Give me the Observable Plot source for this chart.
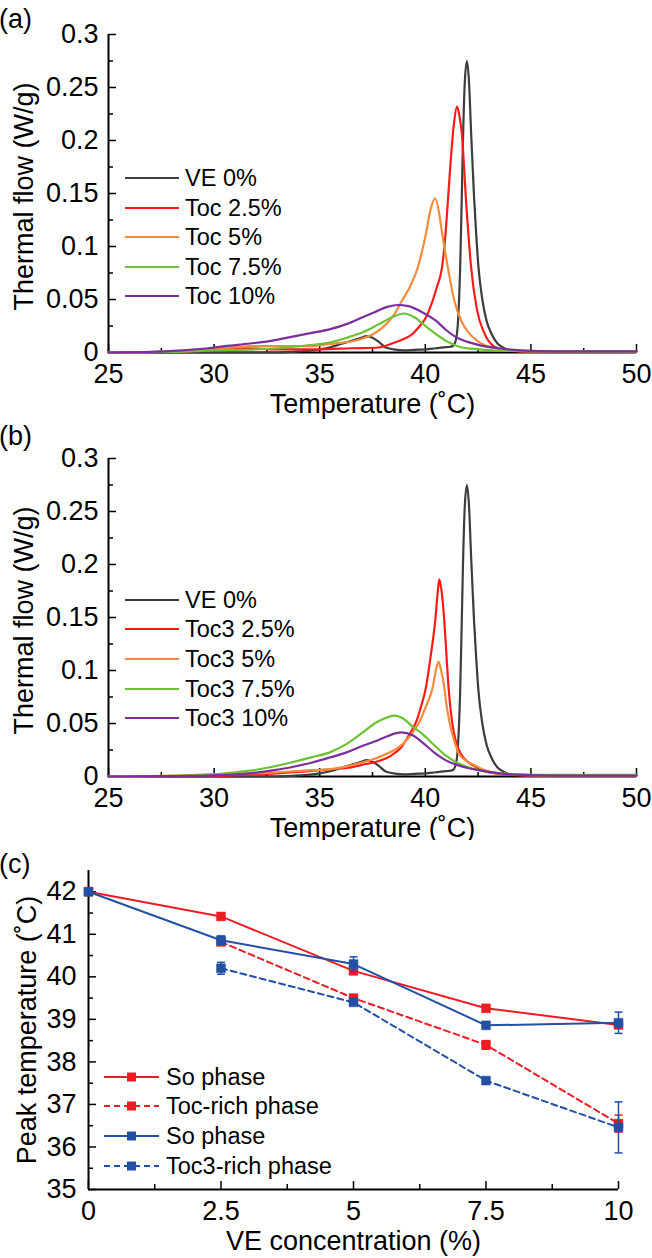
<!DOCTYPE html>
<html><head><meta charset="utf-8">
<script src="https://cdn.jsdelivr.net/npm/d3@7"></script>
<script src="https://cdn.jsdelivr.net/npm/@observablehq/plot@0.6"></script>
<style>
html,body{margin:0;padding:0;background:#fff;}
#wrap{position:relative;width:652px;height:1258px;overflow:hidden;font-family:"Liberation Sans",Arial,sans-serif;}
#wrap svg{position:absolute;left:0;}
</style></head><body><div id="wrap"></div>
<script>
// ---------- axis ticks ----------
const tempTicks = [25, 30, 35, 40, 45, 50];
const tempMinor = [27.5, 32.5, 37.5, 42.5, 47.5];
const flowTicks = [0, 0.05, 0.1, 0.15, 0.2, 0.25, 0.3];
const flowMinor = [0.025, 0.075, 0.125, 0.175, 0.225, 0.275];
const concTicks = [0, 2.5, 5, 7.5, 10];
const concMinor = [1.25, 3.75, 6.25, 8.75];
const peakTicks = [35, 36, 37, 38, 39, 40, 41, 42];
const peakMinor = [35.5, 36.5, 37.5, 38.5, 39.5, 40.5, 41.5];

// ---------- DSC curves [temperature, thermal flow] ----------
const curveVE0 = [[25,0],[33,0],[34,0.001],[35,0.003],[35.5,0.005],[36,0.008],[36.5,0.011],[37,0.014],[37.2,0.0155],[37.5,0.014],[37.8,0.01],[38.1,0.005],[38.5,0.003],[39,0.002],[39.5,0.0025],[40,0.003],[40.5,0.004],[41,0.005],[41.3,0.006],[41.45,0.012],[41.55,0.03],[41.65,0.08],[41.72,0.14],[41.79,0.205],[41.87,0.255],[41.97,0.275],[42.07,0.255],[42.17,0.207],[42.3,0.15],[42.4,0.115],[42.52,0.08],[42.7,0.05],[42.9,0.03],[43.15,0.017],[43.4,0.009],[43.66,0.005],[44,0.002],[45,0.001],[50,0.001]];
const curveToc25 = [[25,0],[28,0.0005],[29.5,0.002],[30,0.004],[30.5,0.003],[31.5,0.004],[33,0.003],[35,0.003],[36.5,0.004],[37.8,0.0047],[38.5,0.009],[39,0.013],[39.4,0.0176],[39.7,0.024],[40.03,0.033],[40.3,0.046],[40.55,0.062],[40.79,0.08],[40.95,0.11],[41.07,0.143],[41.2,0.18],[41.35,0.215],[41.5,0.232],[41.6,0.225],[41.73,0.2065],[41.93,0.143],[42.17,0.08],[42.45,0.04],[42.8,0.018],[43.3,0.005],[43.8,0.002],[45,0.001],[50,0.001]];
const curveToc5 = [[25,0],[26.5,0],[28,0.001],[29,0.002],[30,0.004],[31,0.005],[31.7,0.006],[33,0.006],[34.5,0.006],[35.5,0.008],[36,0.009],[37,0.013],[37.5,0.017],[38,0.024],[38.5,0.035],[38.9,0.049],[39.3,0.063],[39.64,0.08],[40.03,0.112],[40.25,0.135],[40.47,0.1455],[40.65,0.132],[40.8,0.112],[41.07,0.08],[41.37,0.049],[41.7,0.03],[42.08,0.018],[42.4,0.012],[42.8,0.007],[43.3,0.004],[44,0.002],[45,0.001],[50,0.001]];
const curveToc75 = [[25,0],[28,0.0005],[30,0.002],[32,0.003],[33,0.004],[34,0.006],[35,0.008],[35.47,0.0094],[36.3,0.014],[37.04,0.019],[37.83,0.027],[38.5,0.034],[39,0.0368],[39.5,0.033],[40.19,0.022],[40.6,0.016],[40.98,0.011],[41.7,0.005],[42.55,0.003],[44,0.0015],[50,0.001]];
const curveToc10 = [[25,0],[27,0.0005],[28.5,0.002],[29.7,0.004],[30.5,0.006],[31.7,0.0085],[32.7,0.011],[33.6,0.0145],[34.5,0.018],[35.5,0.022],[36.3,0.027],[37,0.033],[37.6,0.038],[38.2,0.043],[38.7,0.0448],[39.2,0.0438],[39.87,0.0378],[40.5,0.03],[41,0.021],[41.5,0.014],[42,0.01],[42.55,0.007],[43.5,0.004],[44.5,0.002],[46,0.001],[50,0.001]];

const curveToc3_25 = [[25,0],[30,0.0005],[31.5,0.0015],[33,0.003],[34.5,0.005],[35.6,0.007],[36.3,0.008],[37,0.011],[37.83,0.0148],[38.4,0.02],[38.85,0.0274],[39.2,0.038],[39.59,0.0527],[39.8,0.066],[40.03,0.084],[40.25,0.113],[40.47,0.147],[40.58,0.172],[40.66,0.186],[40.75,0.178],[40.9,0.147],[41,0.115],[41.1,0.084],[41.26,0.0527],[41.45,0.033],[41.68,0.0215],[42,0.014],[42.4,0.009],[42.8,0.005],[43.3,0.003],[44,0.0015],[45,0.001],[50,0.001]];
const curveToc3_5 = [[25,0],[28,0.0005],[29.7,0.002],[31,0.0025],[32.5,0.0035],[33.6,0.0047],[34.6,0.006],[35.5,0.007],[36.73,0.0117],[37.5,0.016],[38.15,0.0212],[38.7,0.027],[39.09,0.0337],[39.45,0.043],[39.75,0.0527],[40.05,0.067],[40.35,0.084],[40.5,0.1],[40.63,0.1084],[40.75,0.1],[40.9,0.084],[41,0.068],[41.13,0.0527],[41.35,0.035],[41.6,0.0212],[42,0.014],[42.4,0.01],[42.8,0.006],[43.5,0.003],[44.5,0.0015],[46,0.001],[50,0.001]];
const curveToc3_75 = [[25,0],[28,0.0005],[30,0.002],[31,0.004],[31.7,0.0055],[32.7,0.009],[33.6,0.013],[34.6,0.018],[35.5,0.023],[36.3,0.031],[37.04,0.0416],[37.6,0.05],[38.1,0.055],[38.54,0.0574],[39,0.054],[39.4,0.047],[39.87,0.04],[40.4,0.03],[40.98,0.0196],[41.5,0.013],[42,0.009],[42.55,0.006],[43.5,0.003],[44.5,0.002],[46,0.0015],[50,0.0015]];
const curveToc3_10 = [[25,0],[29,0.0005],[30.5,0.0015],[31.7,0.003],[32.7,0.0055],[33.6,0.0085],[34.6,0.013],[35.5,0.018],[36.3,0.023],[37.04,0.029],[37.6,0.033],[38.2,0.038],[38.85,0.0416],[39.4,0.039],[39.87,0.032],[40.4,0.023],[41,0.015],[41.5,0.011],[42,0.008],[42.55,0.006],[43.5,0.003],[44.5,0.0015],[46.5,0.0008],[50,0.0008]];

const namesA = ["VE 0%", "Toc 2.5%", "Toc 5%", "Toc 7.5%", "Toc 10%"];
const namesB = ["VE 0%", "Toc3 2.5%", "Toc3 5%", "Toc3 7.5%", "Toc3 10%"];
const dscColors = ["#3d3d3d", "#ff1a1a", "#f58b3c", "#6cc235", "#7b2f9c"];

// ---------- panel (c) peak temperatures ----------
const conc = [0, 2.5, 5, 7.5, 10];
const concRich = [2.5, 5, 7.5, 10];
const soToc = [42.0, 41.42, 40.14, 39.26, 38.87];
const soTocErr = [0.03, 0.05, 0.08, 0.06, 0.06];
const tocRich = [40.82, 39.50, 38.40, 36.55];
const tocRichErr = [0.05, 0.06, 0.1, 0.2];
const soToc3 = [42.0, 40.86, 40.30, 38.86, 38.92];
const soToc3Err = [0.03, 0.1, 0.17, 0.05, 0.25];
const toc3Rich = [40.20, 39.40, 37.56, 36.46];
const toc3RichErr = [0.14, 0.05, 0.04, 0.6];
const namesC = ["So phase", "Toc-rich phase", "So phase", "Toc3-rich phase"];
const colorsC = ["#ec1c24", "#ec1c24", "#2250a4", "#2250a4"];
const dashedC = [false, true, false, true];

// ---------- helpers ----------
const FONT = '"Liberation Sans", Arial, sans-serif';
const TICK_FS = 27, TITLE_FS = 27;
const wrap = document.getElementById("wrap");
const fmtNum = d => String(+d.toFixed(3));

function place(svg, top) {
  svg.style.top = top + "px";
  wrap.appendChild(svg);
}

function dscPanel(curves, names, top) {
  const rows = [];
  curves.forEach((c, i) => c.forEach(([T, v]) => rows.push({T, v, s: names[i]})));
  const svg = Plot.plot({
    width: 652, height: 420,
    marginTop: top === 0 ? 34 : 38, marginBottom: top === 0 ? 68 : 64,
    marginLeft: 108, marginRight: 16,
    style: {fontFamily: FONT, fontSize: TICK_FS + "px", color: "black", background: "white", overflow: "visible"},
    x: {domain: [25, 50]},
    y: {domain: [0, 0.3]},
    color: {domain: names, range: dscColors},
    marks: [
      Plot.axisX({ticks: tempTicks, tickSize: -8, tickPadding: 19, tickFormat: fmtNum, label: null, fontSize: TICK_FS, strokeWidth: 1.5}),
      Plot.axisX({ticks: tempMinor, tickSize: -4, tickFormat: () => "", label: null, strokeWidth: 1.5}),
      Plot.axisY({ticks: flowTicks, tickSize: -8, tickPadding: 18, tickFormat: fmtNum, label: null, fontSize: TICK_FS, strokeWidth: 1.5}),
      Plot.axisY({ticks: flowMinor, tickSize: -5, tickFormat: () => "", label: null, strokeWidth: 1.5}),
      Plot.ruleX([25], {strokeWidth: 2}),
      Plot.ruleY([0], {strokeWidth: 2}),
      Plot.line(rows, {x: "T", y: "v", z: "s", stroke: "s", strokeWidth: 2.2, curve: "monotone-x"}),
      Plot.text(["Temperature (˚C)"], {text: d => d, frameAnchor: "bottom", lineAnchor: "middle", textAnchor: "middle", dy: 52, fontSize: TITLE_FS}),
      Plot.text(["Thermal flow (W/g)"], {text: d => d, frameAnchor: "left", lineAnchor: "middle", textAnchor: "middle", rotate: -90, dx: -84, dy: 3, fontSize: TITLE_FS})
    ]
  });
  place(svg, top);
}

dscPanel([curveVE0, curveToc25, curveToc5, curveToc75, curveToc10], namesA, 0);
dscPanel([curveVE0, curveToc3_25, curveToc3_5, curveToc3_75, curveToc3_10], namesB, 420);

// panel (c)
const seriesC = [
  {xs: conc, ys: soToc, es: soTocErr},
  {xs: concRich, ys: tocRich, es: tocRichErr},
  {xs: conc, ys: soToc3, es: soToc3Err},
  {xs: concRich, ys: toc3Rich, es: toc3RichErr}
];
const capSymbol = {draw(ctx) { ctx.moveTo(-4, 0); ctx.lineTo(4, 0); }};
const marksC = [];
seriesC.forEach((s, i) => {
  const rows = s.xs.map((x, j) => ({x, y: s.ys[j], e: s.es[j]}));
  const col = colorsC[i];
  marksC.push(
    Plot.line(rows, {x: "x", y: "y", stroke: col, strokeWidth: 2, strokeDasharray: dashedC[i] ? "6,4" : null}),
    Plot.ruleX(rows, {x: "x", y1: d => d.y - d.e, y2: d => d.y + d.e, stroke: col, strokeWidth: 1.5}),
    Plot.dot(rows, {x: "x", y: d => d.y + d.e, symbol: capSymbol, stroke: col, strokeWidth: 1.5}),
    Plot.dot(rows, {x: "x", y: d => d.y - d.e, symbol: capSymbol, stroke: col, strokeWidth: 1.5}),
    Plot.dot(rows, {x: "x", y: "y", symbol: "square", r: 5, fill: col, stroke: col, strokeOpacity: 0.5, strokeWidth: 1})
  );
});
const svgC = Plot.plot({
  width: 652, height: 418,
  marginTop: 30, marginBottom: 69, marginLeft: 88, marginRight: 34,
  style: {fontFamily: FONT, fontSize: TICK_FS + "px", color: "black", background: "white", overflow: "visible"},
  x: {domain: [0, 10]},
  y: {domain: [35, 42.5]},
  marks: [
    Plot.axisX({ticks: concTicks, tickSize: -8, tickPadding: 19, tickFormat: fmtNum, label: null, fontSize: TICK_FS, strokeWidth: 1.5}),
    Plot.axisX({ticks: concMinor, tickSize: -5, tickFormat: () => "", label: null, strokeWidth: 1.5}),
    Plot.axisY({ticks: peakTicks, tickSize: -8, tickPadding: 20, tickFormat: fmtNum, label: null, fontSize: TICK_FS, strokeWidth: 1.5}),
    Plot.axisY({ticks: peakMinor, tickSize: -5, tickFormat: () => "", label: null, strokeWidth: 1.5}),
    Plot.ruleX([0], {strokeWidth: 2}),
    Plot.ruleY([35], {strokeWidth: 2}),
    ...marksC,
    Plot.text(["VE concentration (%)"], {text: d => d, frameAnchor: "bottom", lineAnchor: "middle", textAnchor: "middle", dy: 52, fontSize: TITLE_FS}),
    Plot.text(["Peak temperature (˚C)"], {text: d => d, frameAnchor: "left", lineAnchor: "middle", textAnchor: "middle", rotate: -90, dx: -61, dy: 0, fontSize: TITLE_FS})
  ]
});
place(svgC, 840);

// ---------- overlay: panel letters and legends ----------
const ov = d3.select(wrap).append("svg")
  .attr("width", 652).attr("height", 1258)
  .style("top", "0px").style("pointer-events", "none")
  .style("font-family", FONT);

[["(a)", 28], ["(b)", 445], ["(c)", 873]].forEach(([t, y]) => {
  ov.append("text").attr("x", -1).attr("y", y).attr("font-size", 27).attr("fill", "black").text(t);
});

function dscLegend(names, rowsY) {
  names.forEach((n, i) => {
    ov.append("line").attr("x1", 125).attr("x2", 179).attr("y1", rowsY[i]).attr("y2", rowsY[i])
      .attr("stroke", dscColors[i]).attr("stroke-width", 2.2);
    ov.append("text").attr("x", 185).attr("y", rowsY[i]).attr("dominant-baseline", "central")
      .attr("font-size", 23.5).attr("fill", "black").text(n);
  });
}
dscLegend(namesA, [178, 208, 237, 267, 296]);
dscLegend(namesB, [600, 629, 659, 689, 718]);

const legCY = [1077, 1106, 1136, 1166];
namesC.forEach((n, i) => {
  const y = legCY[i];
  ov.append("line").attr("x1", 104).attr("x2", 159).attr("y1", y).attr("y2", y)
    .attr("stroke", colorsC[i]).attr("stroke-width", 2)
    .attr("stroke-dasharray", dashedC[i] ? "6,4" : null);
  ov.append("rect").attr("x", 127).attr("y", y - 4.5).attr("width", 9).attr("height", 9).attr("fill", colorsC[i]);
  ov.append("text").attr("x", 166).attr("y", y).attr("dominant-baseline", "central")
    .attr("font-size", 23.5).attr("fill", "black").text(n);
});
</script>
</body></html>
